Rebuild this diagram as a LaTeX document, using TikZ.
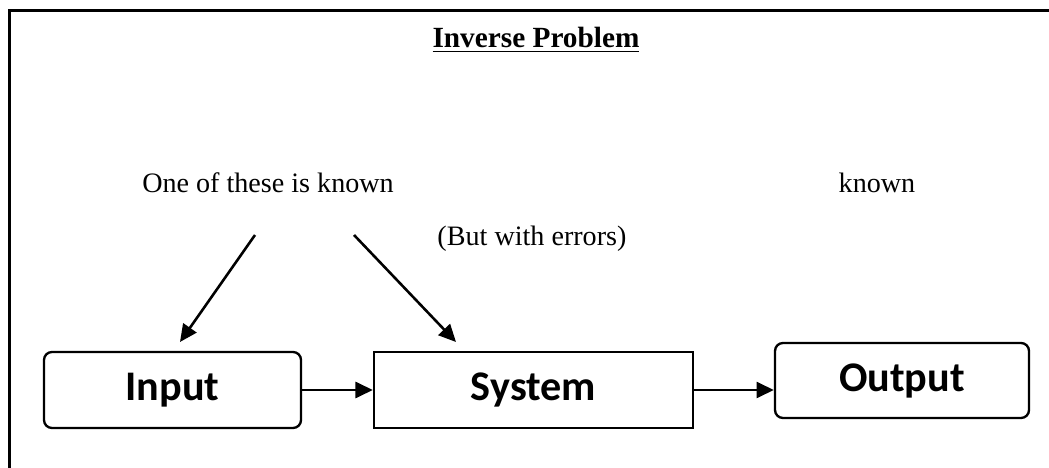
\documentclass[tikz,border=0pt]{standalone}
\usepackage{fontspec}
\setmainfont{Liberation Serif}
\newfontfamily\boxfont{Carlito}
\usetikzlibrary{arrows.meta, positioning, calc}

\begin{document}
\begin{tikzpicture}[x=0.015cm, y=-0.015cm,
  roundbox/.style={draw, line width=1pt, rounded corners=0.12cm, minimum height=1.14cm, font=\boxfont\fontsize{18}{20}\selectfont\bfseries},
  sysbox/.style={draw, line width=1pt, minimum height=1.14cm, font=\boxfont\fontsize{18}{20}\selectfont\bfseries},
  plain/.style={inner sep=0pt, anchor=base, font=\fontsize{12}{14}\selectfont},
  arrow/.style={-{Triangle[length=0.26cm, width=0.24cm]}, line width=1.1pt}
]
  \useasboundingbox (0,0) rectangle (1049,468);
  \draw[line width=1.2pt] (9.5,468) -- (9.5,10.5) -- (1049,10.5);

  \node[plain, font=\fontsize{12.5}{15}\selectfont\bfseries] (title) at (536,48) {\underline{Inverse Problem}};
  \node[plain] (oneknown) at (268,193) {One of these is known};
  \node[plain] (known) at (877,193) {known};
  \node[plain, anchor=base west] (errors) at (437,246) {(But with errors)};

  \node[roundbox, minimum width=3.855cm] (input) at (172.5,390) {Input};
  \node[sysbox, minimum width=4.785cm] (system) at (533.5,390) {System};
  \node[roundbox, minimum width=3.81cm, minimum height=1.125cm] (output) at (902,380.5) {Output};

  \coordinate (leftstart) at (255,235);
  \coordinate (lefttip) at (180,342);
  \coordinate (rightstart) at (354,235);
  \coordinate (righttip) at (456,342);

  \draw[arrow] (leftstart) -- (lefttip);
  \draw[arrow] (rightstart) -- (righttip);
  \draw[arrow] (input) -- (system);
  \draw[arrow] (system.east) -- (system.east -| output.west);
\end{tikzpicture}
\end{document}
